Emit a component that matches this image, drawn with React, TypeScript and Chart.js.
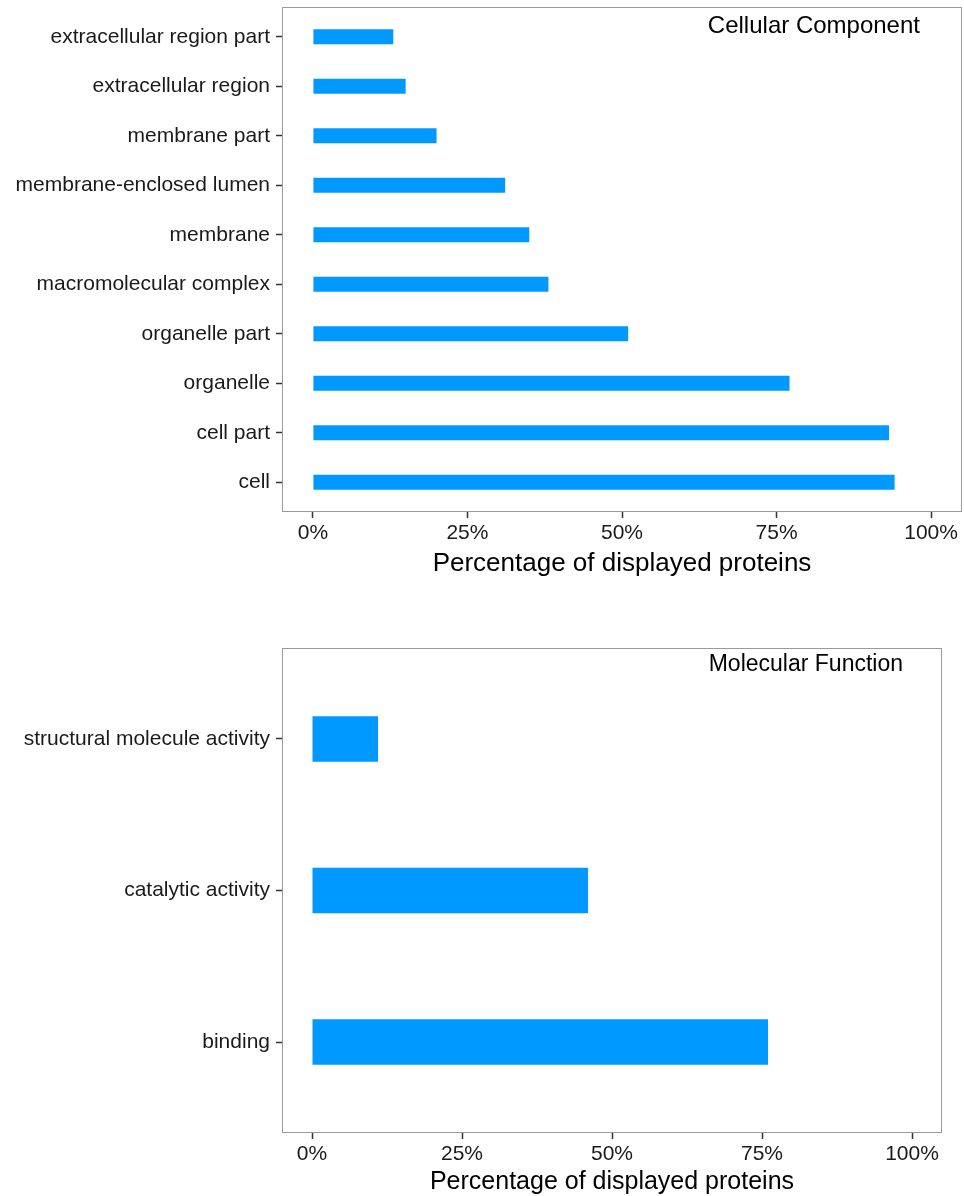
import React, { useEffect, useRef } from "react";
import { Chart, registerables } from "chart.js";

Chart.register(...registerables);

const FONT = "'Liberation Sans', Arial, Helvetica, sans-serif";

// Cellular Component (bottom-to-top order, as ggplot draws it)
const CC_CATEGORIES = [
  "cell",
  "cell part",
  "organelle",
  "organelle part",
  "macromolecular complex",
  "membrane",
  "membrane-enclosed lumen",
  "membrane part",
  "extracellular region",
  "extracellular region part",
];
const CC_VALUES = [94.1, 93.2, 77.1, 51.0, 38.1, 35.0, 31.1, 20.0, 15.0, 13.0];

// Molecular Function
const MF_CATEGORIES = ["binding", "catalytic activity", "structural molecule activity"];
const MF_VALUES = [76.0, 46.0, 11.0];

const X_TICKS = [0, 25, 50, 75, 100];
const X_TITLE = "Percentage of displayed proteins";
const BAR_COLOR = "#0099FF";

type PanelSpec = {
  categories: string[];
  values: number[];
  title: string;
  top: number;
  height: number;
  padTop: number;
  padRight: number;
  xAxisHeight: number;
  tickSize: number;
  titleSize: number;
  titlePadBottom: number;
  annSize: number;
  annX: number;
  annDy: number;
};

function Panel({ spec }: { spec: PanelSpec }) {
  const ref = useRef<HTMLCanvasElement | null>(null);
  useEffect(() => {
    if (!ref.current) return;
    const cats = spec.categories;
    const panelPlugin = {
      id: "panelDecor",
      afterDraw(chart: any) {
        const { ctx, chartArea } = chart;
        ctx.save();
        ctx.strokeStyle = "#9a9a9a";
        ctx.lineWidth = 1;
        ctx.strokeRect(
          Math.round(chartArea.left) + 0.5,
          Math.round(chartArea.top) + 0.5,
          Math.round(chartArea.right - chartArea.left) - 1,
          Math.round(chartArea.bottom - chartArea.top) - 1
        );
        ctx.fillStyle = "#000";
        ctx.font = `${spec.annSize}px ${FONT}`;
        ctx.textAlign = "right";
        ctx.textBaseline = "middle";
        ctx.fillText(spec.title, chart.scales.x.getPixelForValue(spec.annX), chartArea.top + spec.annDy);
        ctx.restore();
      },
    };
    const gridOpts = {
      drawOnChartArea: false,
      drawTicks: true,
      offset: false,
      tickLength: 6,
      tickColor: "#333333",
      tickWidth: 1.5,
    };
    const chart = new Chart(ref.current, {
      type: "bar",
      data: {
        datasets: [
          {
            data: spec.values.map((v, i) => ({ x: v, y: i })),
            backgroundColor: BAR_COLOR,
            borderWidth: 0,
            categoryPercentage: 1,
            barPercentage: 0.3,
          },
        ],
      },
      options: {
        indexAxis: "y",
        responsive: false,
        animation: false,
        events: [],
        layout: { padding: { top: spec.padTop, right: spec.padRight, left: 0, bottom: 0 } },
        plugins: {
          legend: { display: false },
          tooltip: { enabled: false },
          title: { display: false },
        },
        scales: {
          x: {
            type: "linear",
            position: "bottom",
            offset: false,
            min: -5,
            max: 105,
            afterBuildTicks: (s: any) => {
              s.ticks = X_TICKS.map((v) => ({ value: v }));
            },
            afterFit: (s: any) => {
              s.height = spec.xAxisHeight;
            },
            ticks: {
              callback: (v: any) => `${v}%`,
              font: { family: FONT, size: spec.tickSize },
              color: "#1a1a1a",
              padding: 3,
              maxRotation: 0,
              autoSkip: false,
            },
            grid: gridOpts,
            border: { display: false },
            title: {
              display: true,
              text: X_TITLE,
              color: "#000",
              font: { family: FONT, size: spec.titleSize },
              padding: { top: 0, bottom: spec.titlePadBottom },
            },
          },
          y: {
            type: "linear",
            offset: false,
            min: -0.6,
            max: cats.length - 0.4,
            afterBuildTicks: (s: any) => {
              s.ticks = cats.map((_, i) => ({ value: i }));
            },
            afterFit: (s: any) => {
              s.width = 282;
            },
            ticks: {
              callback: (v: any) => cats[Math.round(Number(v))] ?? "",
              font: { family: FONT, size: spec.tickSize },
              color: "#1a1a1a",
              padding: 6,
              autoSkip: false,
            },
            grid: gridOpts,
            border: { display: false },
          },
        },
      } as any,
      plugins: [panelPlugin],
    });
    return () => chart.destroy();
  }, [spec]);
  return (
    <canvas
      ref={ref}
      width={964}
      height={spec.height}
      style={{ position: "absolute", left: 0, top: spec.top, width: 964, height: spec.height }}
    />
  );
}

const TOP_SPEC: PanelSpec = {
  categories: CC_CATEGORIES,
  values: CC_VALUES,
  title: "Cellular Component",
  top: -20,
  height: 615,
  padTop: 27,
  padRight: 2,
  xAxisHeight: 83,
  tickSize: 21,
  titleSize: 26,
  titlePadBottom: 16,
  annSize: 24,
  annX: 98.2,
  annDy: 19,
};

const BOTTOM_SPEC: PanelSpec = {
  categories: MF_CATEGORIES,
  values: MF_VALUES,
  title: "Molecular Function",
  top: 600,
  height: 596,
  padTop: 48,
  padRight: 22,
  xAxisHeight: 63,
  tickSize: 21,
  titleSize: 25,
  titlePadBottom: -1,
  annSize: 23,
  annX: 98.5,
  annDy: 17,
};

export default function App() {
  return (
    <div style={{ position: "absolute", left: 0, top: 0, width: 964, height: 1196, background: "#fff", overflow: "hidden" }}>
      <Panel spec={TOP_SPEC} />
      <Panel spec={BOTTOM_SPEC} />
    </div>
  );
}
